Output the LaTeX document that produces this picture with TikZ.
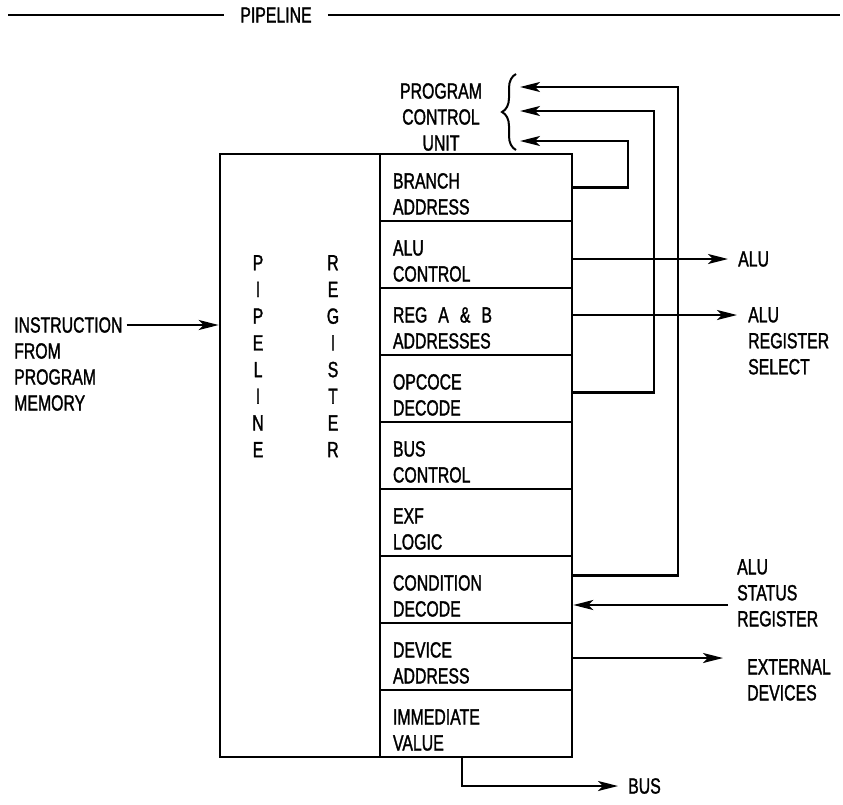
\documentclass[tikz,border=0pt]{standalone}
\usepackage{fontspec}
\setmainfont[FakeStretch=0.72,FakeBold=1.4]{Liberation Sans}
\usetikzlibrary{arrows.meta,decorations.pathreplacing}

\begin{document}
\begin{tikzpicture}
  [
    x=1pt,y=-1pt,
    font=\fontsize{22}{26}\selectfont,
    every node/.style={inner sep=0pt},
    regbox/.style={rectangle,draw,line width=2.6pt,minimum width=160pt,minimum height=603pt},
    field/.style={rectangle,draw,line width=2.6pt,minimum width=192pt,minimum height=67pt,
                  inner xsep=13pt,text width=166pt,align=left,text height=28pt,text depth=26pt},
    letters/.style={anchor=north,align=center,font=\fontsize{22}{26.7}\selectfont},
    lbl/.style={anchor=north west,align=left},
    arr/.style={line width=2.3pt,-{Stealth[length=20pt,width=10pt,inset=5pt]}},
    wire/.style={line width=2.3pt},
  ]
  \useasboundingbox (0,0) rectangle (843,804);

  \node[regbox]  (reg)    at (300,455.5) {};
  \node[letters] (pipe)   at (258,255)   {P\\I\\P\\E\\L\\I\\N\\E};
  \node[letters] (regtxt) at (333,255)   {R\\E\\G\\I\\S\\T\\E\\R};

  \node[field] (branch) at (476,187.5) {BRANCH\\ADDRESS};
  \node[field] (alu)    at (476,254.5) {ALU\\CONTROL};
  \node[field] (regab)  at (476,321.5) {REG\enspace A\enspace\&\enspace B\\ADDRESSES};
  \node[field] (opcode) at (476,388.5) {OPCOCE\\DECODE};
  \node[field] (bus)    at (476,455.5) {BUS\\CONTROL};
  \node[field] (exf)    at (476,522.5) {EXF\\LOGIC};
  \node[field] (cond)   at (476,589.5) {CONDITION\\DECODE};
  \node[field] (device) at (476,656.5) {DEVICE\\ADDRESS};
  \node[field] (imm)    at (476,723.5) {IMMEDIATE\\VALUE};

  \node                    (title)   at (276,15)  {PIPELINE};
  \node[anchor=north,align=center] (pcu) at (441,83) {PROGRAM\\CONTROL\\UNIT};
  \node[lbl]               (instr)   at (14,317)  {INSTRUCTION\\FROM\\PROGRAM\\MEMORY};
  \node[anchor=west]       (alulbl)  at (738,259) {ALU};
  \node[lbl]               (sellbl)  at (748,307) {ALU\\REGISTER\\SELECT};
  \node[lbl]               (statlbl) at (737,559) {ALU\\STATUS\\REGISTER};
  \node[lbl]               (extlbl)  at (747,659) {EXTERNAL\\DEVICES};
  \node[anchor=west]       (buslbl)  at (628,786) {BUS};

  \coordinate (pcu1) at (520,87);
  \coordinate (pcu2) at (520,111);
  \coordinate (pcu3) at (520,141);
  \path ([shift={(4pt,-8pt)}]instr.north east)    coordinate (instrtail);
  \path ([shift={(-11pt,-8pt)}]sellbl.north west) coordinate (seltip);
  \path ([shift={(-9pt,-46pt)}]statlbl.north west) coordinate (stattail);
  \path ([shift={(-24pt,1pt)}]extlbl.north west)  coordinate (exttip);

  \draw[wire] (8,15) -- ([xshift=-16pt]title.west);
  \draw[wire] ([xshift=16pt]title.east) -- (840,15);
  \draw[line width=2pt,decorate,decoration={brace,amplitude=14pt}] (516,150) -- (516,74);

  \draw[arr] (instrtail) -- (instrtail -| reg.west);
  \draw[arr] (branch.east) -- ++(55,0) |- (pcu3);
  \draw[arr] ([yshift=-4pt]opcode.east) -- ++(81,0) |- (pcu2);
  \draw[arr] ([yshift=14pt]cond.east) -- ++(105,0) |- (pcu1);
  \draw[arr] (alulbl.west -| alu.east) -- ([xshift=-10pt]alulbl.west);
  \draw[arr] (seltip -| regab.east) -- (seltip);
  \draw[arr] (stattail) -- (stattail -| cond.east);
  \draw[arr] (exttip -| device.east) -- (exttip);
  \draw[arr] ([xshift=-14pt]imm.south) |- ([xshift=-10pt]buslbl.west);
\end{tikzpicture}
\end{document}
